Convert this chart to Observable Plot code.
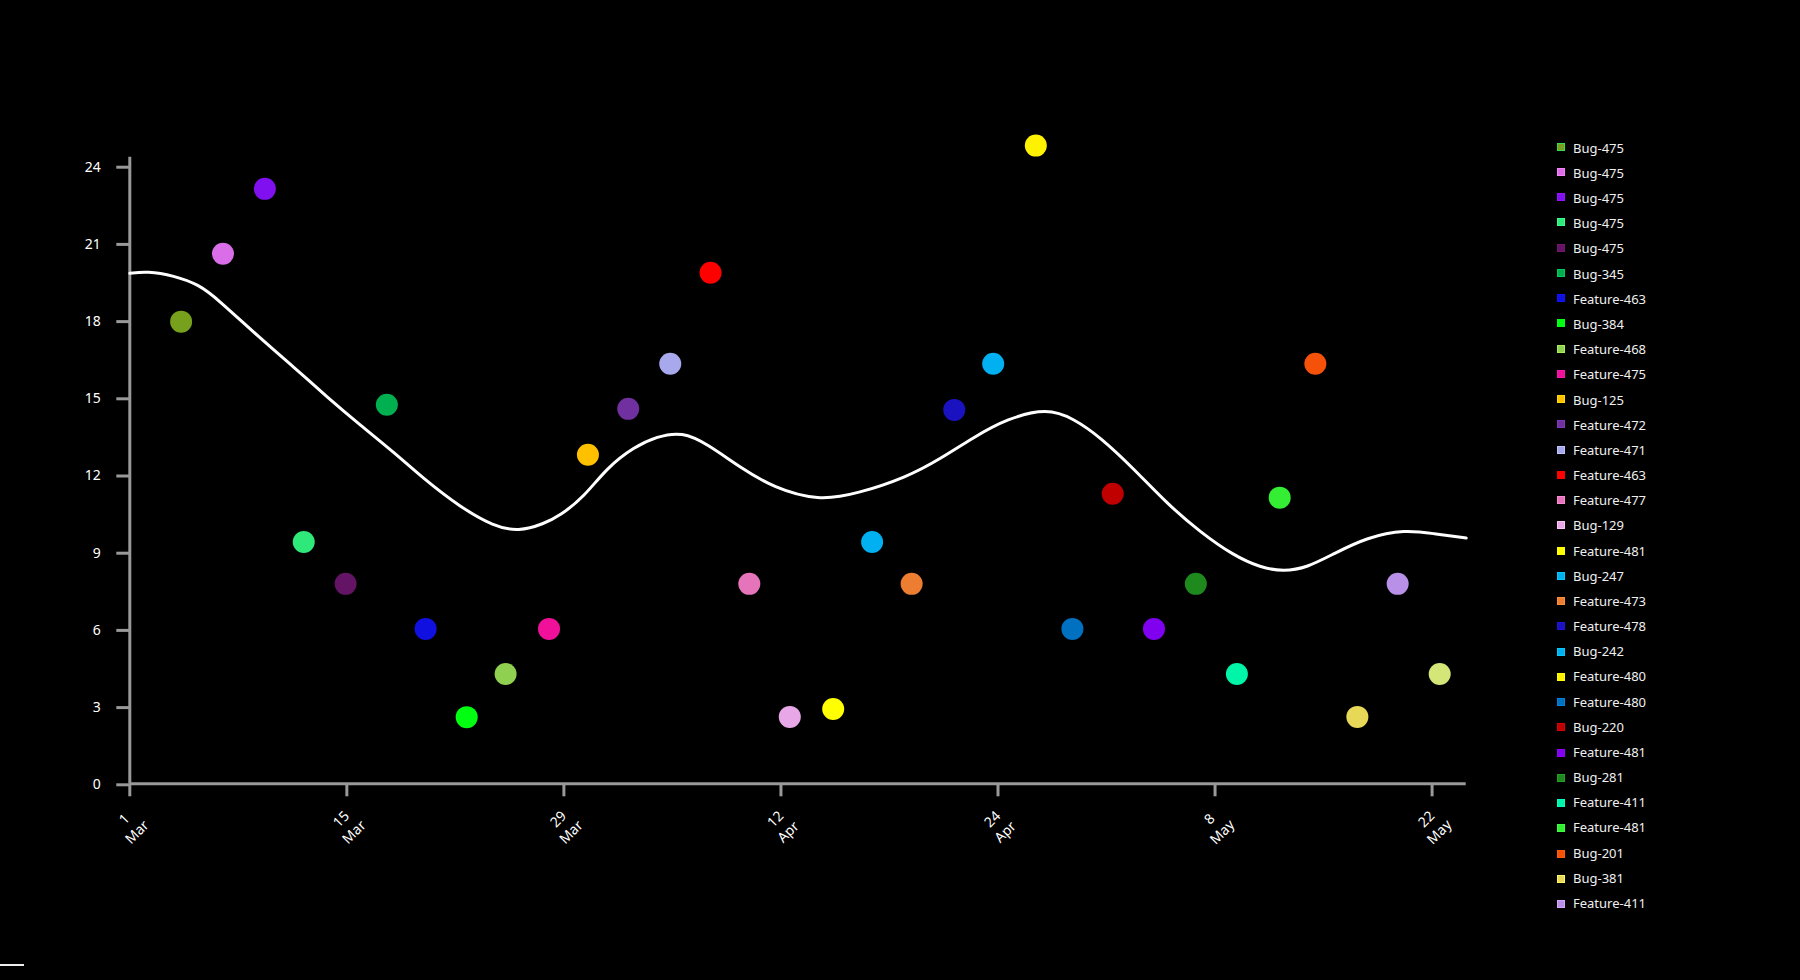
<!DOCTYPE html>
<html>
<head>
<meta charset="utf-8">
<script src="https://cdn.jsdelivr.net/npm/d3@7"></script>
<script src="https://cdn.jsdelivr.net/npm/@observablehq/plot@0.6"></script>
<style>
  html, body { margin: 0; padding: 0; background: #000; }
  #wrap { position: relative; width: 1800px; height: 980px; background: #000; overflow: hidden; font-family: "Noto Sans", sans-serif; }
  #chart { position: absolute; left: 0; top: 0; }
  #legend { position: absolute; left: 0; top: 0; }
  .sw { position: absolute; width: 6px; height: 6px; border: 1px solid; }
  .lb { position: absolute; color: #f0f0f0; font-size: 13px; line-height: 16px; white-space: nowrap; }
  #stray { position: absolute; left: 0; top: 964px; width: 24px; height: 2px; background: #eee; }
</style>
</head>
<body>
<div id="wrap">
  <div id="chart"></div>
  <div id="legend"></div>
  <div id="stray"></div>
</div>
<script>
// ---- data (x = days since 1 Mar) ----
const pointDays = [3.31, 6.01, 8.71, 11.22, 13.92, 16.58, 19.08, 21.73, 24.24, 27.04, 29.55, 32.15, 34.86, 37.46, 39.96, 42.57, 45.37, 47.88, 50.43, 53.18, 55.69, 58.44, 60.8, 63.4, 66.06, 68.76, 71.41, 74.17, 76.47, 79.18, 81.78, 84.49];
const pointValues = [17.96, 20.6, 23.12, 9.4, 7.77, 14.73, 6.02, 2.59, 4.27, 6.02, 12.79, 14.57, 16.32, 19.86, 7.77, 2.6, 2.91, 9.4, 7.77, 14.53, 16.32, 24.8, 6.02, 11.27, 6.02, 7.77, 4.27, 11.12, 16.32, 2.6, 7.77, 4.27];
const pointColors = ["#77a11c", "#da6ee8", "#8010f0", "#2ee87a", "#641464", "#00b050", "#1010e0", "#00ff10", "#90d050", "#f0109a", "#ffc000", "#7030a0", "#a8a8ec", "#ff0000", "#e674bb", "#e8a8e8", "#ffff00", "#00b0f0", "#ed7d31", "#1a12c0", "#00b0f0", "#fff200", "#0070c0", "#c00000", "#8000f0", "#1e8a1e", "#00f5a8", "#33ee33", "#f55108", "#e8d858", "#b890e8", "#d4e677"];
const legendLabels = ["Bug-475", "Bug-475", "Bug-475", "Bug-475", "Bug-475", "Bug-345", "Feature-463", "Bug-384", "Feature-468", "Feature-475", "Bug-125", "Feature-472", "Feature-471", "Feature-463", "Feature-477", "Bug-129", "Feature-481", "Bug-247", "Feature-473", "Feature-478", "Bug-242", "Feature-480", "Feature-480", "Bug-220", "Feature-481", "Bug-281", "Feature-411", "Feature-481", "Bug-201", "Bug-381", "Feature-411"];

const trendDays = [0, 1.12, 2.84, 4.45, 5.64, 8.43, 10.58, 12.73, 14.88, 17.03, 18.96, 21.32, 23.48, 25.09, 26.7, 27.77, 29.28, 30.79, 32.5, 34.01, 35.63, 37.24, 39.38, 41.54, 44.42, 46.92, 50.14, 52.28, 54.44, 56.59, 59.17, 60.89, 62.6, 64.75, 66.91, 69.05, 71.2, 72.93, 74.43, 75.93, 77.65, 79.81, 82.27, 84.1, 86.2];
const trendValues = [19.84, 19.92, 19.75, 19.4, 18.85, 17.3, 16.19, 15.03, 13.93, 12.89, 11.85, 10.75, 10.0, 9.8, 10.1, 10.43, 11.14, 12.29, 13.08, 13.5, 13.68, 13.21, 12.29, 11.5, 11.0, 11.27, 11.92, 12.63, 13.47, 14.19, 14.6, 14.19, 13.47, 12.25, 10.88, 9.78, 8.87, 8.4, 8.25, 8.4, 8.94, 9.58, 9.88, 9.72, 9.55];

const xTickDays = [0, 14, 28, 42, 56, 70, 84];
const xTickLabels = ["1\nMar", "15\nMar", "29\nMar", "12\nApr", "24\nApr", "8\nMay", "22\nMay"];
const yTicks = [0, 3, 6, 9, 12, 15, 18, 21, 24];

// ---- build ----
const points = pointDays.map((d, i) => ({day: d, value: pointValues[i], color: pointColors[i]}));
const trend = trendDays.map((d, i) => ({day: d, value: trendValues[i]}));

const chart = Plot.plot({
  width: 1800,
  height: 980,
  marginLeft: 129.3,
  marginRight: 334.3,
  marginTop: 156.7,
  marginBottom: 196.7,
  style: {background: "#000", color: "#fff", fontFamily: "'Noto Sans', sans-serif", fontSize: "14px", overflow: "visible"},
  x: {type: "linear", domain: [0, 86.2], axis: null},
  y: {domain: [0, 24.35], axis: null},
  color: {type: "identity"},
  marks: [
    Plot.axisY({ticks: yTicks, tickSize: 13, tickPadding: 16, stroke: "#999", strokeWidth: 3, fill: "#fff", label: null, fontSize: 14, dy: 1}),
    Plot.axisX({ticks: xTickDays, tickSize: 13, tickFormat: () => "", stroke: "#999", strokeWidth: 3, label: null}),
    Plot.text(xTickDays, {x: d => d, text: (d, i) => xTickLabels[i], frameAnchor: "bottom", dy: 41, rotate: -45, textAnchor: "middle", lineAnchor: "middle", lineHeight: 1.3, fill: "#fff", fontSize: 14}),
    Plot.ruleX([0], {stroke: "#999", strokeWidth: 3}),
    Plot.ruleY([0], {stroke: "#999", strokeWidth: 3}),
    Plot.line(trend, {x: "day", y: "value", stroke: "#fff", strokeWidth: 3, curve: "basis"}),
    Plot.dot(points, {x: "day", y: "value", r: 11, fill: "color", stroke: null})
  ]
});
document.getElementById("chart").appendChild(chart);

// ---- legend ----
const legend = document.getElementById("legend");
legendLabels.forEach((label, i) => {
  const sw = document.createElement("div");
  sw.className = "sw";
  const c = pointColors[i];
  sw.style.left = "1557px";
  sw.style.top = (146.7 + 25.25 * i - 4) + "px";
  sw.style.background = c;
  sw.style.borderColor = i === 0 ? "#33dd55" : d3.color(c).brighter(0.4).formatHex();
  legend.appendChild(sw);
  const lb = document.createElement("div");
  lb.className = "lb";
  lb.textContent = label;
  lb.style.left = "1573px";
  lb.style.top = (148.3 + 25.17 * i - 8.5) + "px";
  legend.appendChild(lb);
});
</script>
</body>
</html>
